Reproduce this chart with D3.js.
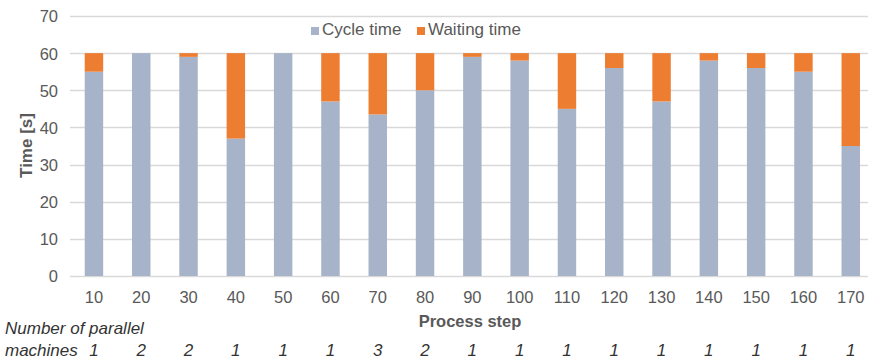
<!DOCTYPE html>
<html>
<head>
<meta charset="utf-8">
<script src="https://cdn.jsdelivr.net/npm/d3@7"></script>
<style>
  html, body { margin: 0; padding: 0; background: #fff; }
  svg { display: block; font-family: "Liberation Sans", Arial, sans-serif; }
</style>
</head>
<body>
<svg id="chart" width="874" height="361"></svg>
<script>
// Process steps along the line
const steps = ["10", "20", "30", "40", "50", "60", "70", "80", "90", "100", "110", "120", "130", "140", "150", "160", "170"];
// Cycle time per step [s]
const cycleTime = [55, 60, 59, 37, 60, 47, 43.5, 50, 59, 58, 45, 56, 47, 58, 56, 55, 35];
// Waiting time per step [s] (takt of 60 s minus cycle time)
const waitingTime = [5, 0, 1, 23, 0, 13, 16.5, 10, 1, 2, 15, 4, 13, 2, 4, 5, 25];
// Number of parallel machines per step
const machines = [1, 2, 2, 1, 1, 1, 3, 2, 1, 1, 1, 1, 1, 1, 1, 1, 1];
const yTicks = [0, 10, 20, 30, 40, 50, 60, 70];
const seriesNames = ["Cycle time", "Waiting time"];
const colors = ["#A7B3C9", "#ED7D31"];

const svg = d3.select("#chart");
const textColor = "#595959";

const x = d3.scaleBand().domain(steps).range([70.3, 874.4]).paddingInner(0.61).paddingOuter(0.305);
const y = d3.scaleLinear().domain([0, 70]).range([276, 16]);

// Gridlines
svg.append("g")
  .selectAll("line")
  .data(yTicks)
  .join("line")
  .attr("x1", 70).attr("x2", 868)
  .attr("y1", d => Math.round(y(d)) + 0.5).attr("y2", d => Math.round(y(d)) + 0.5)
  .attr("stroke", "#D9D9D9").attr("stroke-width", 1.3);

// Stacked bars
const rows = steps.map((s, i) => ({ step: s, cycle: cycleTime[i], waiting: waitingTime[i] }));
const stack = d3.stack().keys(["cycle", "waiting"])(rows);
svg.append("g")
  .selectAll("g")
  .data(stack)
  .join("g")
  .attr("fill", (d, i) => colors[i])
  .selectAll("rect")
  .data(d => d)
  .join("rect")
  .attr("x", d => x(d.data.step))
  .attr("width", x.bandwidth())
  .attr("y", d => y(d[1]))
  .attr("height", d => y(d[0]) - y(d[1]));

// Y axis labels
const yAxis = svg.append("g")
  .attr("transform", "translate(58,0)")
  .call(d3.axisLeft(y).tickValues(yTicks).tickSize(0).tickPadding(0));
yAxis.select(".domain").remove();
yAxis.selectAll("text")
  .attr("fill", textColor)
  .style("font-size", "16.5px")
  .attr("dy", "0.36em");

// X axis labels
const xAxis = svg.append("g")
  .attr("transform", "translate(0,303)")
  .call(d3.axisBottom(x).tickSize(0).tickPadding(0));
xAxis.select(".domain").remove();
xAxis.selectAll("text")
  .attr("fill", textColor)
  .style("font-size", "16.5px")
  .attr("dy", "0");

// Axis titles
svg.append("text")
  .attr("transform", "translate(32,145.5) rotate(-90)")
  .attr("text-anchor", "middle")
  .attr("fill", textColor)
  .style("font-size", "17px")
  .style("font-weight", "bold")
  .text("Time [s]");

svg.append("text")
  .attr("x", 470).attr("y", 327)
  .attr("text-anchor", "middle")
  .attr("fill", textColor)
  .style("font-size", "16.5px")
  .style("font-weight", "bold")
  .text("Process step");

// Parallel machines row
const noteColor = "#333333";
svg.append("text")
  .attr("x", 5).attr("y", 334)
  .attr("fill", noteColor)
  .style("font-size", "17px")
  .style("font-style", "italic")
  .text("Number of parallel");
svg.append("text")
  .attr("x", 5).attr("y", 356)
  .attr("fill", noteColor)
  .style("font-size", "17px")
  .style("font-style", "italic")
  .text("machines");
svg.append("g")
  .selectAll("text")
  .data(machines)
  .join("text")
  .attr("x", (d, i) => x(steps[i]) + x.bandwidth() / 2)
  .attr("y", 356)
  .attr("text-anchor", "middle")
  .attr("fill", noteColor)
  .style("font-size", "17px")
  .style("font-style", "italic")
  .text(d => d);

// Legend
const legendX = [311, 417];
const legend = svg.append("g")
  .selectAll("g")
  .data(seriesNames)
  .join("g")
  .attr("transform", (d, i) => `translate(${legendX[i]},35)`);
legend.append("rect")
  .attr("x", 0).attr("y", -8).attr("width", 8).attr("height", 8)
  .attr("fill", (d, i) => colors[i]);
legend.append("text")
  .attr("x", 11).attr("y", 0)
  .attr("fill", textColor)
  .style("font-size", "17px")
  .text(d => d);
</script>
</body>
</html>
